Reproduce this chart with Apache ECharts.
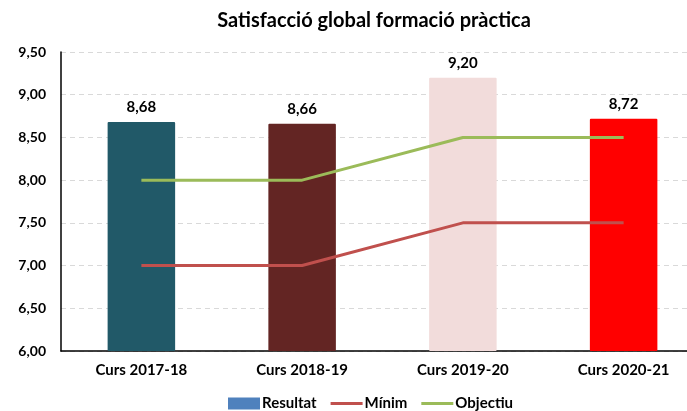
<!DOCTYPE html>
<html>
<head>
<meta charset="utf-8">
<script src="https://cdn.jsdelivr.net/npm/echarts@6/dist/echarts.min.js"></script>
<style>
  html, body { margin: 0; padding: 0; background: #fff; }
  #chart { width: 687px; height: 411px; }
</style>
</head>
<body>
<div id="chart"></div>
<script>
// dades del gràfic
const cursos = ['Curs 2017-18', 'Curs 2018-19', 'Curs 2019-20', 'Curs 2020-21'];
const resultat = [8.68, 8.66, 9.20, 8.72];
const minim = [7.0, 7.0, 7.5, 7.5];
const objectiu = [8.0, 8.0, 8.5, 8.5];
const colorsBarres = ['#215968', '#632523', '#F2DCDB', '#FF0000'];

const font = 'Lato, "Noto Sans", sans-serif';
const fmt = (v) => v.toFixed(2).replace('.', ',');
// icona de línia per a la llegenda (3px dins una caixa de 32x12)
const iconLinia = 'path://M0,0 L0,0 M0,4.5 L32,4.5 L32,7.5 L0,7.5 Z M0,12 L0,12';

const chart = echarts.init(document.getElementById('chart'));
chart.setOption({
	animation: false,
	textStyle: { fontFamily: font },
	title: {
		text: 'Satisfacció global formació pràctica',
		left: 369,
		textAlign: 'center',
		top: 6,
		textStyle: { fontFamily: font, fontSize: 20, fontWeight: 'bold', color: '#000' },
	},
	legend: {
		left: 223,
		top: 391,
		itemGap: 14,
		itemWidth: 32,
		itemHeight: 12,
		textStyle: { fontFamily: font, fontSize: 15, fontWeight: 'bold', color: '#000', padding: [0, 0, 0, -3] },
		data: [
			{ name: 'Resultat', icon: 'rect', itemStyle: { color: '#4F81BD' } },
			{ name: 'Mínim', icon: iconLinia },
			{ name: 'Objectiu', icon: iconLinia },
		],
	},
	// el gràfic original queda retallat per la dreta
	grid: { left: 61, width: 643, top: 52, bottom: 60, outerBoundsMode: 'none' },
	xAxis: {
		type: 'category',
		data: cursos,
		axisLine: { lineStyle: { color: '#000', width: 1.5 } },
		axisTick: { show: false },
		axisLabel: { fontFamily: font, fontSize: 15, fontWeight: 'bold', color: '#000', margin: 12 },
	},
	yAxis: {
		type: 'value',
		min: 6,
		max: 9.5,
		interval: 0.5,
		axisLine: { show: true, lineStyle: { color: '#000', width: 1.5 } },
		axisTick: { show: false },
		axisLabel: { fontFamily: font, fontSize: 14, fontWeight: 'bold', color: '#000', margin: 15, formatter: fmt },
		splitLine: { lineStyle: { color: '#d9d9d9', type: [5, 4] } },
	},
	series: [
		{
			name: 'Resultat',
			type: 'bar',
			barWidth: '42%',
			z: 1,
			data: resultat.map((v, i) => ({ value: v, itemStyle: { color: colorsBarres[i] } })),
			itemStyle: { borderRadius: 1 },
			label: {
				show: true,
				position: 'top',
				distance: 7,
				fontFamily: font,
				fontSize: 15,
				fontWeight: 'bold',
				color: '#000',
				formatter: (p) => fmt(p.value),
			},
		},
		{
			name: 'Mínim',
			type: 'line',
			symbol: 'none',
			z: 3,
			data: minim,
			itemStyle: { color: '#C0504D' },
			lineStyle: { color: '#C0504D', width: 3 },
		},
		{
			name: 'Objectiu',
			type: 'line',
			symbol: 'none',
			z: 3,
			data: objectiu,
			itemStyle: { color: '#9BBB59' },
			lineStyle: { color: '#9BBB59', width: 3 },
		},
	],
});
</script>
</body>
</html>
